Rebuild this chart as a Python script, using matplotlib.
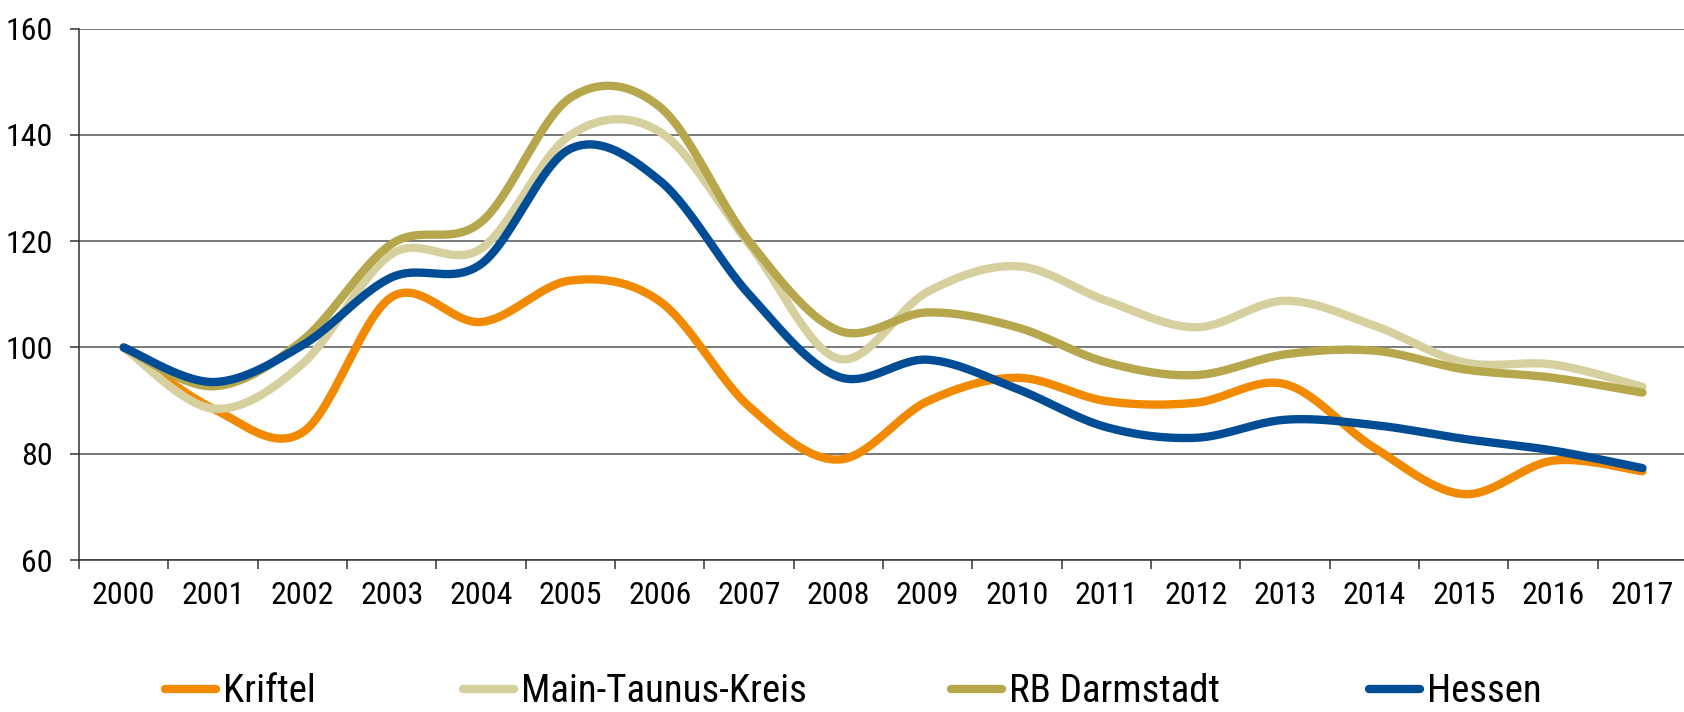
import numpy as np
import matplotlib
matplotlib.use("Agg")
from matplotlib import pyplot as plt
from matplotlib import font_manager

# narrow font (regular weight) if there is one, else plain Liberation Sans a bit smaller
preferred = ['Liberation Sans Narrow', 'Arial Narrow', 'Arimo Narrow', 'Roboto Condensed',
             'Open Sans Condensed', 'Noto Sans Condensed', 'DejaVu Sans Condensed']
regular_narrow = set()
for f in font_manager.fontManager.ttflist:
    if ('Narrow' in f.name or 'Condensed' in f.name) and f.style == 'normal' \
            and f.weight in (400, 'normal', 'regular', 'book'):
        regular_narrow.add(f.name)
fam = None
for p in preferred:
    if p in regular_narrow:
        fam = p
        break
if fam is None and regular_narrow:
    fam = sorted(regular_narrow)[0]
if fam is not None:
    tick_fs, leg_fs = 23, 28
else:
    fam, tick_fs, leg_fs = 'Liberation Sans', 20, 25
plt.rcParams['font.family'] = [fam, 'Liberation Sans', 'DejaVu Sans']
plt.rcParams['font.weight'] = 'normal'

years = [str(y) for y in range(2000, 2018)]

kriftel = [100, 88.5, 84.0, 109.5, 104.8, 112.6, 108.7, 88.9, 78.9, 89.9,
           94.3, 89.9, 89.6, 93.1, 81.1, 72.4, 78.7, 76.7]
main_taunus = [100, 88.5, 96.9, 117.6, 118.6, 140.0, 140.6, 119.5, 97.9, 110.5,
               115.3, 108.8, 103.8, 108.8, 104.1, 97.2, 96.8, 92.6]
rb_darmstadt = [100, 92.7, 101.3, 119.5, 123.6, 147.0, 145.3, 120.0, 103.2, 106.6,
                103.8, 97.2, 94.8, 98.7, 99.4, 95.9, 94.3, 91.5]
hessen = [100, 93.5, 100.4, 113.2, 115.7, 137.4, 131.4, 110.0, 94.5, 97.7,
          92.2, 85.0, 83.0, 86.4, 85.4, 82.8, 80.6, 77.3]

names = ['Kriftel', 'Main-Taunus-Kreis', 'RB Darmstadt', 'Hessen']
colors = ['#F18A00', '#D6D09E', '#B6A64C', '#004D96']
legend_x = [165, 463, 951, 1369]  # left end of each legend line, px


def smooth(y, n=30):
    # excel-like smoothed line (catmull-rom as bezier)
    x = np.arange(len(y), dtype=float)
    y = np.asarray(y, dtype=float)
    px = np.concatenate([[x[0]], x, [x[-1]]])
    py = np.concatenate([[y[0]], y, [y[-1]]])
    xs, ys = [], []
    t = np.linspace(0, 1, n)
    for i in range(len(y) - 1):
        p0 = np.array([px[i + 1], py[i + 1]])
        p3 = np.array([px[i + 2], py[i + 2]])
        c1 = p0 + (np.array([px[i + 2], py[i + 2]]) - np.array([px[i], py[i]])) / 6
        c2 = p3 - (np.array([px[i + 3], py[i + 3]]) - np.array([px[i + 1], py[i + 1]])) / 6
        b = ((1 - t) ** 3)[:, None] * p0 + (3 * (1 - t) ** 2 * t)[:, None] * c1 \
            + (3 * (1 - t) * t ** 2)[:, None] * c2 + (t ** 3)[:, None] * p3
        xs.append(b[:, 0])
        ys.append(b[:, 1])
    return np.concatenate(xs), np.concatenate(ys)


fig = plt.figure(figsize=(16.84, 7.12), dpi=100)
ax = fig.add_axes([79 / 1684, 1 - 560 / 712, 1 - 79 / 1684, (560 - 28.7) / 712])

lines = []
for vals, name, c in zip([kriftel, main_taunus, rb_darmstadt, hessen], names, colors):
    sx, sy = smooth(vals)
    l, = ax.plot(sx, sy, color=c, lw=6.0, solid_capstyle='round', label=name)
    lines.append(l)

ax.set_xlim(-0.5, 17.465)
ax.set_ylim(60, 160)
ax.set_yticks(range(60, 161, 20))
ax.set_xticks(range(len(years)))
ax.set_xticklabels(years)
ax.set_xticks(np.arange(-0.5, 17.5, 1), minor=True)

ax.yaxis.grid(True, color='#555555', lw=1.1)
ax.set_axisbelow(True)
for s in ['top', 'right']:
    ax.spines[s].set_visible(False)
for s in ['left', 'bottom']:
    ax.spines[s].set_color('#333333')
    ax.spines[s].set_linewidth(1.1)

ax.tick_params(axis='y', direction='out', length=6.7, width=1.1, color='#333333',
               labelsize=tick_fs, pad=12)
ax.tick_params(axis='x', which='major', length=0, labelsize=tick_fs, pad=15)
ax.tick_params(axis='x', which='minor', direction='out', length=6.7, width=1.1,
               color='#333333')

# one legend per entry so each sits where it is in the original
for l, name, lx in zip(lines, names, legend_x):
    fig.legend([l], [name], loc='center left', bbox_to_anchor=(lx / 1684, 1 - 692 / 712),
               frameon=False, fontsize=leg_fs, handlelength=1.3, handletextpad=0.2,
               borderpad=0, borderaxespad=0)

fig.savefig('out.png', dpi=100)
